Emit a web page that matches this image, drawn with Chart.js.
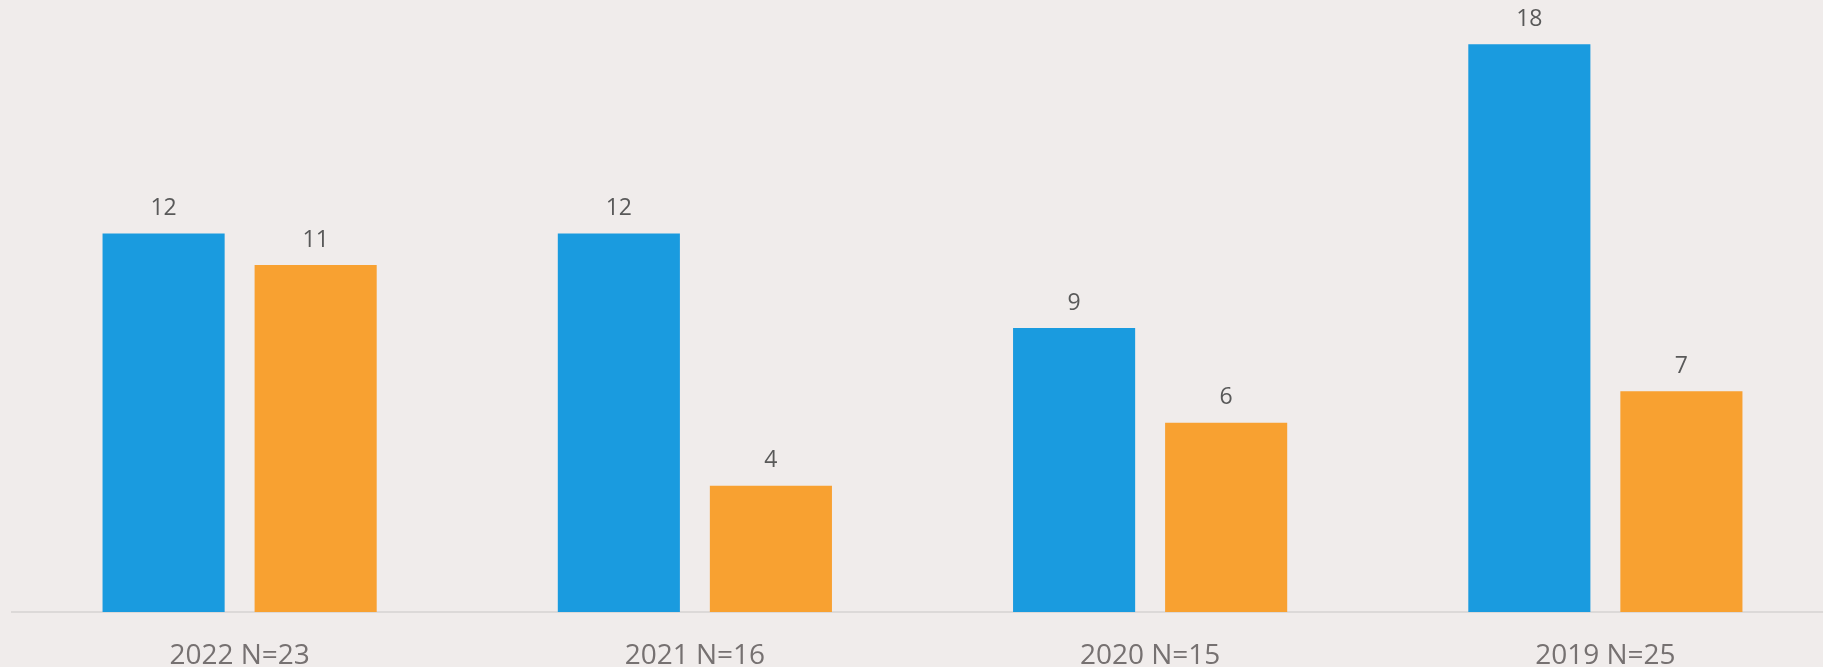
<html>
	<head>
		<script src="https://cdn.jsdelivr.net/npm/chart.js"></script>
		<style>
			html, body {
				margin: 0;
				padding: 0;
				background: #f0eceb;
				overflow: hidden;
			}
			#wrap {
				position: relative;
				width: 1833px;
				height: 667px;
			}
		</style>
	</head>
	<body>
		<div id="wrap"><canvas id="barChart"></canvas></div>

		<script>
			const categories = ['2022 N=23', '2021 N=16', '2020 N=15', '2019 N=25'];
			const seriesA = [12, 12, 9, 18];
			const seriesB = [11, 4, 6, 7];

			// draws the value above each bar (no datalabels plugin available)
			const valueLabels = {
				id: 'valueLabels',
				afterDatasetsDraw(chart) {
					const ctx = chart.ctx;
					ctx.save();
					ctx.font = '23px "Open Sans"';
					ctx.fillStyle = '#595959';
					ctx.textAlign = 'center';
					ctx.textBaseline = 'middle';
					chart.data.datasets.forEach((ds, i) => {
						chart.getDatasetMeta(i).data.forEach((bar, j) => {
							ctx.fillText(ds.data[j], bar.x, bar.y - 25);
						});
					});
					ctx.restore();
				}
			};

			const ctx = document.getElementById('barChart').getContext('2d');
			const chart = new Chart(ctx, {
				type: 'bar',
				data: {
					labels: categories,
					datasets: [
						{ label: 'A', data: seriesA, backgroundColor: '#1a9bdf' },
						{ label: 'B', data: seriesB, backgroundColor: '#f8a131' }
					]
				},
				options: {
					responsive: true,
					maintainAspectRatio: false,
					animation: false,
					layout: { padding: { left: 12, right: 0, top: 0, bottom: 0 } },
					plugins: {
						legend: { display: false },
						tooltip: { enabled: false }
					},
					datasets: {
						bar: { categoryPercentage: 0.668, barPercentage: 0.803 }
					},
					scales: {
						x: {
							grid: { display: false },
							border: { display: true, color: '#dcd9d8', width: 2 },
							ticks: {
								color: '#767171',
								font: { family: 'Open Sans', size: 28 },
								padding: 19,
								maxRotation: 0
							},
							afterFit(scale) { scale.height = 55; }
						},
						y: {
							display: false,
							min: 0,
							max: 19.4
						}
					}
				},
				plugins: [valueLabels]
			});
		</script>
	</body>
</html>
